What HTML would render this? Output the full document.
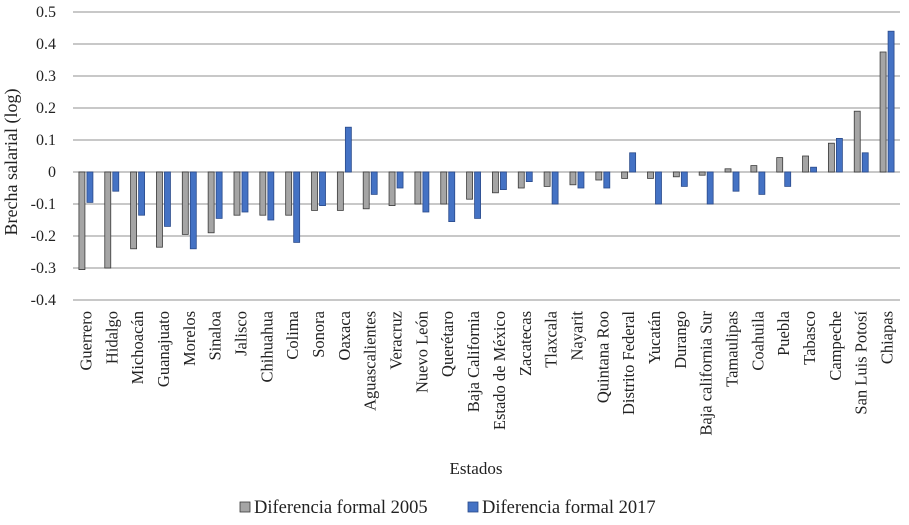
<!DOCTYPE html>
<html><head><meta charset="utf-8"><style>
body{margin:0;background:#fff;width:909px;height:520px;overflow:hidden}
svg{font-family:"Liberation Serif",serif}
</style></head><body>
<svg id="chart" width="909" height="520" xmlns="http://www.w3.org/2000/svg"></svg>
<script>
const categories=["Guerrero","Hidalgo","Michoacán","Guanajuato","Morelos","Sinaloa","Jalisco","Chihuahua","Colima","Sonora","Oaxaca","Aguascalientes","Veracruz","Nuevo León","Querétaro","Baja California","Estado de México","Zacatecas","Tlaxcala","Nayarit","Quintana Roo","Distrito Federal","Yucatán","Durango","Baja california Sur","Tamaulipas","Coahuila","Puebla","Tabasco","Campeche","San Luis Potosí","Chiapas"];
const series2005=[-0.305,-0.30,-0.24,-0.235,-0.195,-0.19,-0.135,-0.135,-0.135,-0.12,-0.12,-0.115,-0.105,-0.10,-0.10,-0.085,-0.065,-0.05,-0.045,-0.04,-0.025,-0.02,-0.02,-0.015,-0.01,0.01,0.02,0.045,0.05,0.09,0.19,0.375];
const series2017=[-0.095,-0.06,-0.135,-0.17,-0.24,-0.145,-0.125,-0.15,-0.22,-0.105,0.14,-0.07,-0.05,-0.125,-0.155,-0.145,-0.055,-0.03,-0.10,-0.05,-0.05,0.06,-0.10,-0.045,-0.10,-0.06,-0.07,-0.045,0.015,0.105,0.06,0.44];
const yTicks=[0.5,0.4,0.3,0.2,0.1,0,-0.1,-0.2,-0.3,-0.4];
const yTickLabels=["0.5","0.4","0.3","0.2","0.1","0","-0.1","-0.2","-0.3","-0.4"];
const NS="http://www.w3.org/2000/svg";
const svg=document.getElementById('chart');
const L=73,R=900,T=12,B=300,vMax=0.5,vMin=-0.4;
const y=v=>T+(vMax-v)/(vMax-vMin)*(B-T);
const step=(R-L)/categories.length;
const x=i=>L+step*i;
function mk(tag,attrs){const e=document.createElementNS(NS,tag);for(const k in attrs)e.setAttribute(k,attrs[k]);svg.appendChild(e);return e;}
yTicks.forEach((t,i)=>{
  const g=mk('line',{x1:L,x2:R,y1:y(t),y2:y(t),stroke:'#a6a6a6','stroke-width':1.3});
  
  
  const tx=mk('text',{x:56,y:y(t)+5,'text-anchor':'end','font-size':16,fill:'#222'});
  tx.textContent=yTickLabels[i];
  
  
});
categories.forEach((c,i)=>{
  const cx=x(i)+step/2;
  const v1=series2005[i],v2=series2017[i];
  const b1=mk('rect',{x:cx-7,y:Math.min(y(v1),y(0)),width:6,height:Math.abs(y(v1)-y(0)),fill:'#a5a5a5',stroke:'#3a3a3a','stroke-width':0.8});
  
  
  const b2=mk('rect',{x:cx+1,y:Math.min(y(v2),y(0)),width:6,height:Math.abs(y(v2)-y(0)),fill:'#4472c4',stroke:'#2a4a8a','stroke-width':0.8});
  
  
  const t=mk('text',{x:0,y:0,'text-anchor':'end','font-size':16.5,fill:'#222',transform:`translate(${cx+5.5},311) rotate(-90)`});
  t.textContent=c;
  
  
});
const yt=mk('text',{x:0,y:0,'text-anchor':'middle','font-size':18,fill:'#222',transform:'translate(17,162) rotate(-90)'});
yt.textContent='Brecha salarial (log)';


const xt=mk('text',{x:476,y:474,'text-anchor':'middle','font-size':17,fill:'#222'});
xt.textContent='Estados';


const l1=mk('rect',{x:240,y:502,width:10,height:10,fill:'#a5a5a5',stroke:'#3a3a3a','stroke-width':0.8});


const lt1=mk('text',{x:254,y:513,'font-size':18.5,fill:'#222'});
lt1.textContent='Diferencia formal 2005';


const l2=mk('rect',{x:468,y:502,width:10,height:10,fill:'#4472c4',stroke:'#2a4a8a','stroke-width':0.8});


const lt2=mk('text',{x:482,y:513,'font-size':18.5,fill:'#222'});
lt2.textContent='Diferencia formal 2017';


</script>
</body></html>
